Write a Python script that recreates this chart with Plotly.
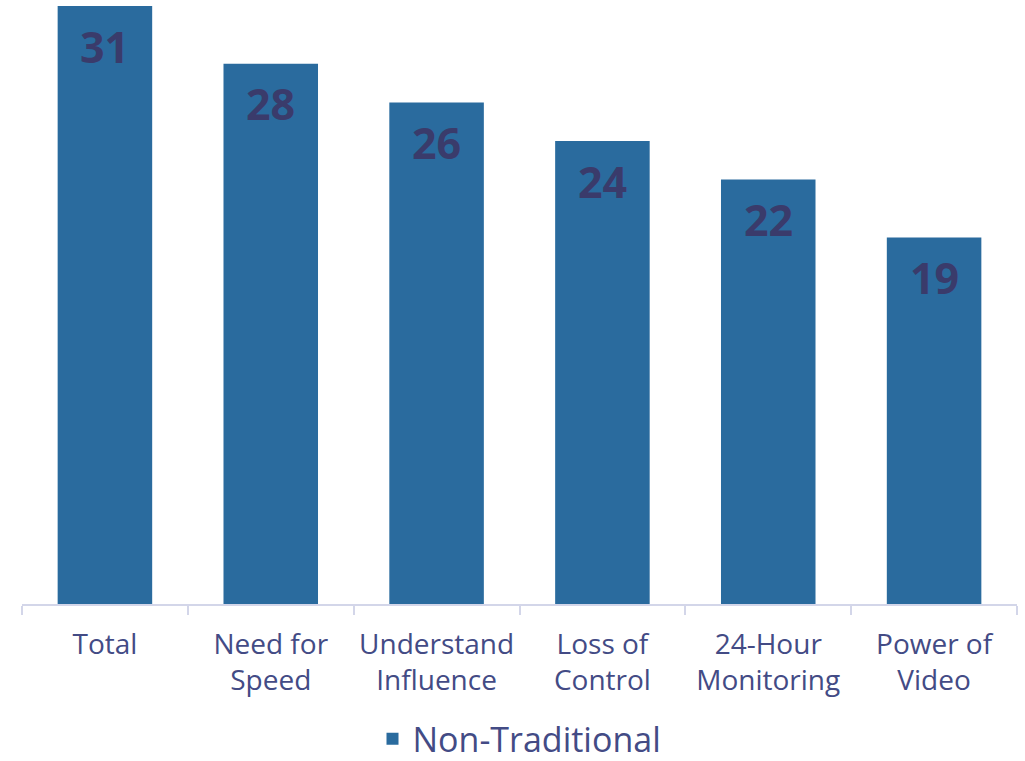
import plotly.graph_objects as go

categories = ["Total", "Need for<br>Speed", "Understand<br>Influence", "Loss of<br>Control", "24-Hour<br>Monitoring", "Power of<br>Video"]
values = [31, 28, 26, 24, 22, 19]
series_name = "Non-Traditional"

bar_color = "#2a6b9e"
text_color = "#434b85"
label_color = "#3a3b6b"
axis_color = "#d3d6e9"
font_family = "'Open Sans', sans-serif"

fig = go.Figure()
fig.add_trace(go.Bar(
    x=categories, y=values, name=series_name,
    marker=dict(color=bar_color, line=dict(width=0)),
    showlegend=True,
))

for c, v in zip(categories, values):
    fig.add_annotation(x=c, y=v, text=f"<b>{v}</b>", showarrow=False,
                       yanchor="middle", yshift=-40,
                       font=dict(family=font_family, size=43, color=label_color))

fig.update_layout(
    width=1025, height=761,
    margin=dict(l=22, r=8, t=6, b=157, autoexpand=False),
    paper_bgcolor="white", plot_bgcolor="white",
    bargap=0.43,
    font=dict(family=font_family, color=text_color),
    showlegend=True,
    legend=dict(orientation="h", x=0.5, xanchor="center", y=-0.226, yanchor="middle",
                font=dict(size=34, color=text_color), itemwidth=30),
    xaxis=dict(showline=True, linecolor=axis_color, linewidth=2,
               ticks="outside", tickson="boundaries", ticklen=9, tickcolor=axis_color, tickwidth=2,
               tickfont=dict(size=28, color=text_color), showgrid=False,
               ticklabelstandoff=14),
    yaxis=dict(range=[0, 31], visible=False, showgrid=False, zeroline=False),
)

fig.write_html("out.html")
